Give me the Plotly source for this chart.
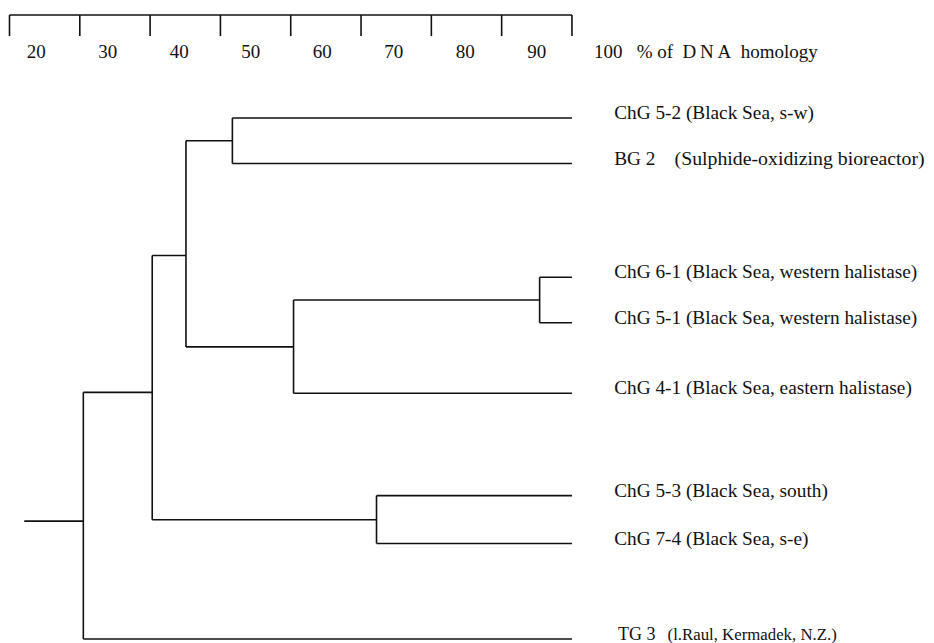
import plotly.graph_objects as go

# ---- data ----
leaf_codes = ["ChG 5-2", "BG 2", "ChG 6-1", "ChG 5-1", "ChG 4-1",
              "ChG 5-3", "ChG 7-4", "TG 3"]
leaf_sources = [
    "(Black Sea, s-w)",
    "(Sulphide-oxidizing bioreactor)",
    "(Black Sea, western halistase)",
    "(Black Sea, western halistase)",
    "(Black Sea, eastern halistase)",
    "(Black Sea, south)",
    "(Black Sea, s-e)",
    "(l.Raul, Kermadek, N.Z.)",
]
# sources printed in their own column (instead of right after the code)
source_column = [False, True, False, False, False, False, False, True]
leaf_rows = [0, 1, 3.5, 4.5, 6.05, 8.3, 9.35, 11.45]
leaf_sim = 100  # leaves sit at 100 % homology

# merges: (child a, child b, % DNA homology at merge, row of merge node)
merge_a = [0, 2, 9, 8, 5, 11, 13]
merge_b = [1, 3, 4, 10, 6, 12, 7]
merge_sim = [51.7, 95.4, 60.4, 45.1, 72.2, 40.3, 30.5]
merge_row = [0.5, 4.0, 5.03, 3.02, 8.83, 6.03, 8.86]
root_start = 22.1

scale_ticks = [20, 30, 40, 50, 60, 70, 80, 90, 100]
scale_labels = ["20", "30", "40", "50", "60", "70", "80", "90", "100"]
scale_title = "%\u00a0of\u00a0\u00a0D\u2009N\u2009A\u00a0\u00a0homology"

# ---- layout / style constants ----
FONT = "Liberation Serif"
INK = "#111111"
LINE = dict(color=INK, width=1.6)
SCALE_ROW = -2.264
TICK_BOTTOM_ROW = -1.80
LABEL_ROW = -1.42
LABEL_SHIFT = 3.8
LABEL_STRETCH = 0.017
LEAF_LABEL_X = [106.0] * 7 + [106.55]
LEAF_LABEL_LIFT = 0.08
TITLE_X = 109.2
LEAF_SIZE = [19.3, 19.3, 19.3, 19.3, 19.3, 19.3, 19.3, 18.0]
SOURCE_X = {1: 114.6, 7: 113.6}
SOURCE_SIZE = {1: 19.8, 7: 16.8}

node_x = [leaf_sim] * len(leaf_codes) + list(merge_sim)
node_y = list(leaf_rows) + list(merge_row)

xs, ys = [], []
for k, (a, b) in enumerate(zip(merge_a, merge_b)):
    n = len(leaf_codes) + k
    px = node_x[n]
    xs += [px, px, None]
    ys += [node_y[a], node_y[b], None]
    for c in (a, b):
        xs += [px, node_x[c], None]
        ys += [node_y[c], node_y[c], None]
root = len(node_x) - 1
xs += [root_start, node_x[root], None]
ys += [node_y[root], node_y[root], None]

fig = go.Figure()
fig.add_trace(go.Scatter(x=xs, y=ys, mode="lines", line=LINE,
                         hoverinfo="skip", showlegend=False))

# top scale bar
sx, sy = [scale_ticks[0], scale_ticks[-1], None], [SCALE_ROW, SCALE_ROW, None]
for t in scale_ticks:
    sx += [t, t, None]
    sy += [SCALE_ROW, TICK_BOTTOM_ROW, None]
fig.add_trace(go.Scatter(x=sx, y=sy, mode="lines", line=LINE,
                         hoverinfo="skip", showlegend=False))

fig.add_trace(go.Scatter(
    x=[t + LABEL_SHIFT + (t - 20) * LABEL_STRETCH for t in scale_ticks],
    y=[LABEL_ROW] * len(scale_ticks),
    text=scale_labels, mode="text", textposition="middle center",
    textfont=dict(family=FONT, size=19, color=INK),
    hoverinfo="skip", showlegend=False, cliponaxis=False))

fig.add_trace(go.Scatter(
    x=[TITLE_X], y=[LABEL_ROW], text=[scale_title], mode="text",
    textposition="middle right",
    textfont=dict(family=FONT, size=19, color=INK),
    hoverinfo="skip", showlegend=False, cliponaxis=False))

# leaf labels: code (+ source when inline)
main_text = [c if sep else c + " " + s
             for c, s, sep in zip(leaf_codes, leaf_sources, source_column)]
fig.add_trace(go.Scatter(
    x=LEAF_LABEL_X,
    y=[r - LEAF_LABEL_LIFT for r in leaf_rows],
    text=main_text, mode="text", textposition="middle right",
    textfont=dict(family=FONT, size=LEAF_SIZE, color=INK),
    hoverinfo="skip", showlegend=False, cliponaxis=False))

# sources printed in a separate column
idx = [i for i, sep in enumerate(source_column) if sep]
fig.add_trace(go.Scatter(
    x=[SOURCE_X[i] for i in idx],
    y=[leaf_rows[i] - LEAF_LABEL_LIFT for i in idx],
    text=[leaf_sources[i] for i in idx], mode="text",
    textposition="middle right",
    textfont=dict(family=FONT, size=[SOURCE_SIZE[i] for i in idx], color=INK),
    hoverinfo="skip", showlegend=False, cliponaxis=False))

fig.update_layout(
    width=934, height=643,
    margin=dict(l=0, r=0, t=0, b=0),
    paper_bgcolor="white", plot_bgcolor="white",
    xaxis=dict(range=[19.787, 152.63], visible=False, domain=[0, 1]),
    yaxis=dict(range=[11.714, -2.418], visible=False, domain=[0, 1]),
)

fig.write_html("out.html")
